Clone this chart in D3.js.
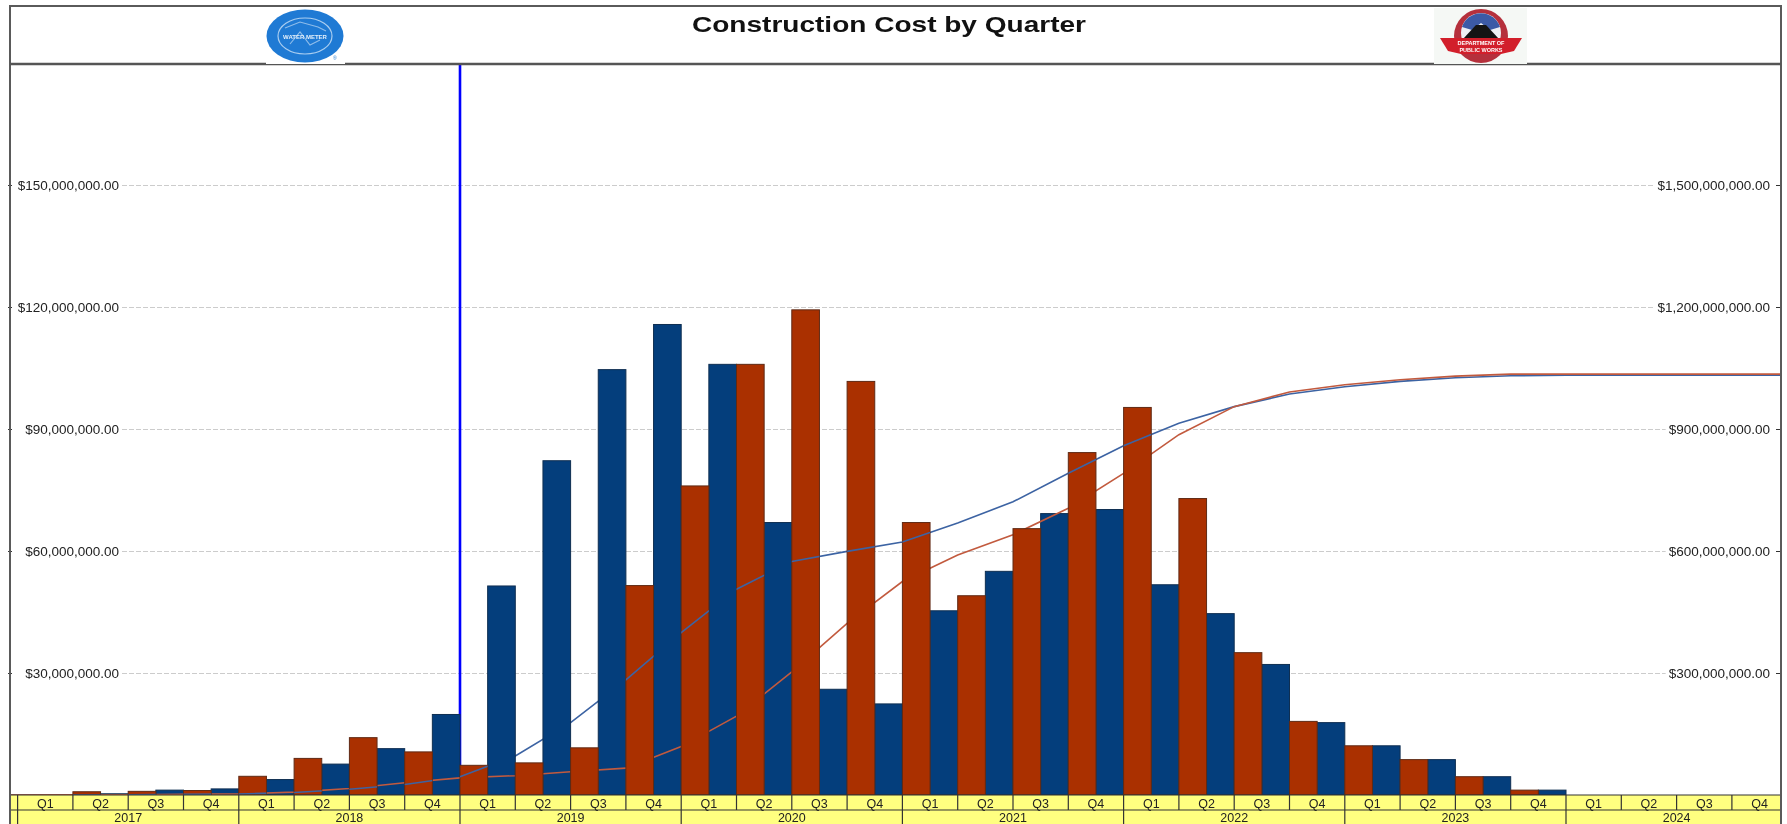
<!DOCTYPE html>
<html>
<head>
<meta charset="utf-8">
<script src="https://cdn.jsdelivr.net/npm/d3@7"></script>
<style>
  html, body { margin: 0; padding: 0; background: #fff; overflow: hidden; }
  svg { display: block; filter: blur(0.45px); font-family: "Liberation Sans", Arial, sans-serif; }
</style>
</head>
<body>
<script>
// chart data, all in millions of dollars
var years = ["2017", "2018", "2019", "2020", "2021", "2022", "2023", "2024"];
var quarterNames = ["Q1", "Q2", "Q3", "Q4"];

var redBars = [0, 0.8, 0.9, 1.1,  4.6, 9, 14.1, 10.6,  7.3, 7.9, 11.6, 51.5,  76, 105.9, 119.3, 101.7,
               67, 49, 65.5, 84.2,  95.3, 72.9, 35, 18.1,  12.1, 8.7, 4.5, 1.2,  0, 0, 0, 0];
var blueBars = [0, 0.3, 1.2, 1.5,  3.8, 7.6, 11.4, 19.8,  51.4, 82.2, 104.6, 115.7,  105.9, 67, 26, 22.4,
                45.3, 55, 69.2, 70.2,  51.7, 44.6, 32.1, 17.8,  12.1, 8.7, 4.5, 1.2,  0, 0, 0, 0];

// cumulative lines read against the right axis
var redLine = [0.3, 0.8, 1.7, 2.8,  7, 16, 30, 42,  47.5, 57, 66, 119,  194, 303, 422, 525,
               590, 640, 705, 791,  886, 955, 991, 1009,  1021, 1030, 1035, 1035,  1035, 1035, 1035, 1035];
var blueLine = [0.1, 0.4, 1.5, 2.5,  6, 14, 26, 45,  96, 178, 283, 399,  506, 574, 599, 622,
                669, 721, 791, 859,  914, 955, 986, 1004,  1017, 1026, 1031, 1032,  1032, 1032, 1032, 1032];

var leftTicks = [30, 60, 90, 120, 150];
var rightTicks = [300, 600, 900, 1200, 1500];
var dataDate = "2019 Q1";

var width = 1787, height = 824;
var plotLeft = 10, plotRight = 1781, plotTop = 63, plotBottom = 795;
var stripMid = 810;

var quarters = [];
years.forEach(function(y) {
    quarterNames.forEach(function(q) { quarters.push(y + " " + q); });
});

var x = d3.scaleBand().domain(quarters).range([17.6, 17.6 + 32 * 55.3]);
var yLeft = d3.scaleLinear().domain([0, 180]).range([plotBottom, plotTop]);
var yRight = d3.scaleLinear().domain([0, 1800]).range([plotBottom, plotTop]);

var svg = d3.select("body").append("svg").attr("width", width).attr("height", height);
var defs = svg.append("defs");
defs.append("clipPath").attr("id", "plotClip").append("rect")
    .attr("x", plotLeft).attr("y", plotTop).attr("width", plotRight - plotLeft).attr("height", height - plotTop);

var halfBand = x.bandwidth() / 2;

// red bars also act as a clip, the blue line runs in front of them
defs.append("clipPath").attr("id", "redBarClip").selectAll("rect")
    .data(redBars).enter().append("rect")
    .attr("x", function(d, i) { return x(quarters[i]); })
    .attr("y", function(d) { return yLeft(d); })
    .attr("width", halfBand)
    .attr("height", function(d) { return plotBottom - yLeft(d); });

// right axis labels first, the gridline length depends on them
var rightAxis = svg.append("g")
    .attr("transform", "translate(1770,0)")
    .call(d3.axisLeft(yRight).tickValues(rightTicks).tickSize(0).tickPadding(0)
        .tickFormat(function(d) { return "$" + d3.format(",.2f")(d * 1e6); }));
rightAxis.select(".domain").remove();
rightAxis.selectAll("text").attr("font-size", 13.5).attr("fill", "#222").attr("font-family", "Liberation Sans");

var leftAxis = svg.append("g")
    .attr("transform", "translate(119,0)")
    .call(d3.axisLeft(yLeft).tickValues(leftTicks).tickSize(0).tickPadding(0)
        .tickFormat(function(d) { return "$" + d3.format(",.2f")(d * 1e6); }));
leftAxis.select(".domain").remove();
leftAxis.selectAll("text").attr("font-size", 13.5).attr("fill", "#222").attr("font-family", "Liberation Sans");

// gridlines stop at the labels
var rightWidths = [];
rightAxis.selectAll("text").each(function() { rightWidths.push(this.getComputedTextLength()); });
svg.append("g").selectAll("line").data(leftTicks).enter().append("line")
    .attr("x1", 122)
    .attr("x2", function(d, i) { return 1770 - rightWidths[i] - 3; })
    .attr("y1", function(d) { return yLeft(d) + 0.5; })
    .attr("y2", function(d) { return yLeft(d) + 0.5; })
    .attr("stroke", "#cccccc").attr("stroke-width", 1).attr("stroke-dasharray", "5,2");

// small ticks on the frame
svg.append("g").selectAll("line").data(leftTicks).enter().append("line")
    .attr("x1", 8).attr("x2", 12)
    .attr("y1", function(d) { return yLeft(d) + 0.5; })
    .attr("y2", function(d) { return yLeft(d) + 0.5; })
    .attr("stroke", "#333");
svg.append("g").selectAll("line").data(leftTicks).enter().append("line")
    .attr("x1", 1776).attr("x2", 1781)
    .attr("y1", function(d) { return yLeft(d) + 0.5; })
    .attr("y2", function(d) { return yLeft(d) + 0.5; })
    .attr("stroke", "#333");

// data date marker
svg.append("line")
    .attr("x1", x(dataDate)).attr("x2", x(dataDate))
    .attr("y1", plotTop).attr("y2", plotBottom)
    .attr("stroke", "#0000ff").attr("stroke-width", 2.6);

// lines plot at the end of each quarter, flat after the last one
function makeLine(values) {
    return d3.line()
        .x(function(d, i) { return x(quarters[i]) + x.bandwidth(); })
        .y(function(d) { return yRight(d); })(values);
}

var chart = svg.append("g").attr("clip-path", "url(#plotClip)");

function drawPath(values, color) {
    return chart.append("path")
        .attr("d", "M" + plotLeft + "," + plotBottom + "L" + makeLine(values).slice(1))
        .attr("fill", "none").attr("stroke", color).attr("stroke-width", 1.6);
}

// blue line goes under blue bars, red line under red bars
var blueColor = "#3c63a3", redColor = "#c25a3e";
drawPath(blueLine, blueColor);
chart.append("g").selectAll("rect").data(blueBars).enter().append("rect")
    .attr("x", function(d, i) { return x(quarters[i]) + halfBand; })
    .attr("y", function(d) { return yLeft(d); })
    .attr("width", halfBand)
    .attr("height", function(d) { return plotBottom - yLeft(d); })
    .attr("fill", "#043e7c").attr("stroke", "#0f2f52").attr("stroke-width", 1);
drawPath(redLine, redColor);
chart.append("g").selectAll("rect").data(redBars).enter().append("rect")
    .attr("x", function(d, i) { return x(quarters[i]); })
    .attr("y", function(d) { return yLeft(d); })
    .attr("width", halfBand)
    .attr("height", function(d) { return plotBottom - yLeft(d); })
    .attr("fill", "#aa3000").attr("stroke", "#5f2a14").attr("stroke-width", 1);
drawPath(blueLine, blueColor).attr("clip-path", "url(#redBarClip)");

// yellow date strips
var strip = svg.append("g").attr("clip-path", "url(#plotClip)");
strip.append("rect")
    .attr("x", plotLeft).attr("y", plotBottom).attr("width", plotRight - plotLeft).attr("height", height - plotBottom)
    .attr("fill", "#ffff80");
strip.append("line").attr("x1", plotLeft).attr("x2", plotRight).attr("y1", plotBottom).attr("y2", plotBottom)
    .attr("stroke", "#333").attr("stroke-width", 1.2);
strip.append("line").attr("x1", plotLeft).attr("x2", plotRight).attr("y1", stripMid).attr("y2", stripMid)
    .attr("stroke", "#333").attr("stroke-width", 1.2);

strip.selectAll(".qtick").data(quarters).enter().append("line")
    .attr("class", "qtick")
    .attr("x1", function(d) { return x(d); }).attr("x2", function(d) { return x(d); })
    .attr("y1", plotBottom).attr("y2", stripMid)
    .attr("stroke", "#333").attr("stroke-width", 1.2);
strip.selectAll(".qlabel").data(quarters).enter().append("text")
    .attr("class", "qlabel")
    .attr("x", function(d) { return x(d) + x.bandwidth() / 2; })
    .attr("y", 807.5)
    .attr("text-anchor", "middle").attr("font-size", 12.5).attr("fill", "#222")
    .text(function(d) { return d.split(" ")[1]; });

strip.selectAll(".ytick").data(years).enter().append("line")
    .attr("class", "ytick")
    .attr("x1", function(d) { return x(d + " Q1"); }).attr("x2", function(d) { return x(d + " Q1"); })
    .attr("y1", stripMid).attr("y2", height)
    .attr("stroke", "#333").attr("stroke-width", 1.2);
strip.selectAll(".ylabel").data(years).enter().append("text")
    .attr("class", "ylabel")
    .attr("x", function(d) { return x(d + " Q1") + 2 * x.bandwidth(); })
    .attr("y", 821.5)
    .attr("text-anchor", "middle").attr("font-size", 12.5).attr("fill", "#222")
    .text(function(d) { return d; });

// frame and title box
svg.append("path")
    .attr("d", "M" + plotLeft + "," + height + "V6H" + plotRight + "V" + height)
    .attr("fill", "none").attr("stroke", "#5a5a5a").attr("stroke-width", 2);
svg.append("line").attr("x1", plotLeft).attr("x2", plotRight).attr("y1", 64).attr("y2", 64)
    .attr("stroke", "#555").attr("stroke-width", 2.4);

svg.append("text")
    .attr("x", 889).attr("y", 32)
    .attr("text-anchor", "middle").attr("font-size", 22).attr("font-weight", "bold").attr("fill", "#111")
    .attr("textLength", 394).attr("lengthAdjust", "spacingAndGlyphs")
    .text("Construction Cost by Quarter");

// left logo, water meter seal
var seal = svg.append("g");
seal.append("rect").attr("x", 266).attr("y", 7).attr("width", 79).attr("height", 57).attr("fill", "#fff");
seal.append("ellipse").attr("cx", 305).attr("cy", 36).attr("rx", 38.5).attr("ry", 26.5).attr("fill", "#1f7ad4");
seal.append("ellipse").attr("cx", 305).attr("cy", 36).attr("rx", 27).attr("ry", 18)
    .attr("fill", "none").attr("stroke", "#a9cdf0").attr("stroke-width", 1.2);
seal.append("path").attr("d", "M285,28L300,22L318,27L326,31M290,44L300,32L310,45L320,40")
    .attr("fill", "none").attr("stroke", "#8fbdea").attr("stroke-width", 1.1);
seal.append("text").attr("x", 305).attr("y", 38.5).attr("text-anchor", "middle")
    .attr("font-size", 6).attr("font-weight", "bold").attr("fill", "#e4f0fb").text("WATER METER");
seal.append("text").attr("x", 333).attr("y", 60).attr("font-size", 5).attr("fill", "#1f7ad4").text("®");

// right logo, public works emblem
var emblem = svg.append("g");
emblem.append("rect").attr("x", 1434).attr("y", 8).attr("width", 93).attr("height", 56).attr("fill", "#f5f8f5");
emblem.append("circle").attr("cx", 1481).attr("cy", 36).attr("r", 27).attr("fill", "#b5303c");
emblem.append("circle").attr("cx", 1481).attr("cy", 33).attr("r", 20).attr("fill", "#eef0f4");
emblem.append("path").attr("d", "M1462,27A20,20 0 0,1 1500,27L1490,30L1481,23L1472,30Z").attr("fill", "#3c5aa6");
emblem.append("path").attr("d", "M1463,39L1476,25H1486L1499,39Z").attr("fill", "#141414");
emblem.append("path").attr("d", "M1440,38L1522,38L1514,51L1501,54H1461L1448,51Z").attr("fill", "#d21f2b");
emblem.append("text").attr("x", 1481).attr("y", 45).attr("text-anchor", "middle")
    .attr("font-size", 5.5).attr("font-weight", "bold").attr("fill", "#fff").text("DEPARTMENT OF");
emblem.append("text").attr("x", 1481).attr("y", 52).attr("text-anchor", "middle")
    .attr("font-size", 5.5).attr("font-weight", "bold").attr("fill", "#fff").text("PUBLIC WORKS");
</script>
</body>
</html>
